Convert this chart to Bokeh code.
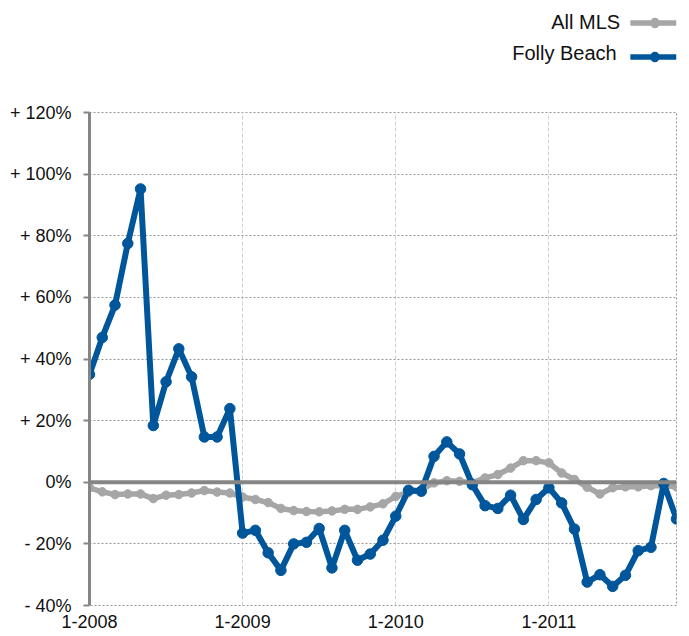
from bokeh.plotting import figure
from bokeh.layouts import column
from bokeh.models import Range1d, FixedTicker, Span, Label, BoxAnnotation, ColumnDataSource
from bokeh.embed import file_html
from bokeh.resources import INLINE

# ---- data (monthly, Jan 2008 .. Nov 2011) ----
month_index = list(range(47))
tick_positions = [0, 12, 24, 36]
tick_labels = ["1-2008", "1-2009", "1-2010", "1-2011"]
y_ticks = [-40, -20, 0, 20, 40, 60, 80, 100, 120]
y_tick_labels = ["- 40%", "- 20%", "0%", "+ 20%", "+ 40%", "+ 60%", "+ 80%", "+ 100%", "+ 120%"]

folly_beach = [35, 47, 57.5, 77.5, 95.2, 18.4, 32.6, 43.3, 34.2, 14.7, 14.7, 23.9,
               -16.5, -15.6, -22.9, -28.6, -20, -19.5, -15, -27.8, -15.6, -25.3, -23.3, -18.8,
               -11, -2.6, -2.9, 8.4, 13.1, 9.2, -0.8, -7.6, -8.5, -4.2, -12.1, -5.6,
               -1.8, -6.7, -15.2, -32.4, -30, -33.8, -30.2, -22.2, -21.1, -0.4, -11.9]
all_mls = [-1.8, -3.1, -4, -3.8, -3.8, -5.3, -4.2, -4, -3.5, -2.7, -3.2, -3.5,
           -4.8, -5.6, -6.6, -8.5, -9.2, -9.5, -9.6, -9.3, -8.8, -8.8, -8, -7,
           -4.6, -3.3, -2.4, -0.2, 0.5, 0.3, -0.2, 1.4, 2.5, 4.6, 7, 7,
           6.3, 3, 0.9, -1.6, -3.8, -1.8, -1.5, -1.5, -1.1, -1.1, -1.5]
series_names = ["All MLS", "Folly Beach"]

BLUE = "#00569A"
GRAY = "#A6A6A6"
AXIS_GRAY = "#858585"
FONT = "Liberation Sans"
W = 687
LEG_H = 70

src = ColumnDataSource(dict(x=month_index, folly=folly_beach, mls=all_mls))

# ---------------- legend strip (label left, swatch right) ----------------
leg = figure(width=W, height=LEG_H, output_backend="svg", toolbar_location=None,
             x_range=Range1d(0, W), y_range=Range1d(LEG_H, 0),
             min_border=0)
leg.axis.visible = False
leg.grid.visible = False
leg.outline_line_color = None
leg.background_fill_color = "white"
leg.border_fill_color = "white"

legend_colors = [GRAY, BLUE]
legend_text_y = [21, 52]
legend_line_y = [22.5, 56.5]
legend_text_right = [621, 617]
for name, col, ty, ly, tr in zip(series_names, legend_colors, legend_text_y, legend_line_y, legend_text_right):
    leg.add_layout(Label(x=tr, y=ty, text=name, text_font=FONT, text_font_size="20px",
                         text_align="right", text_baseline="middle", text_color="#111111"))
    leg.add_layout(BoxAnnotation(left=633, right=W, bottom=ly + 2.8, top=ly - 2.8,
                                 fill_color=col, fill_alpha=1, line_color=None))
    leg.add_layout(BoxAnnotation(left=656.5, right=667, bottom=ly + 5.2, top=ly - 5.2,
                                 fill_color=col, fill_alpha=1, line_color=None,
                                 border_radius=5))

# ---------------- main chart ----------------
p = figure(width=W, height=564, output_backend="svg", toolbar_location=None,
           x_range=Range1d(0, 46), y_range=Range1d(-40, 120),
           min_border_left=89, min_border_top=42, min_border_right=11, min_border_bottom=29)
p.background_fill_color = "white"
p.border_fill_color = "white"
p.outline_line_color = "#999999"
p.outline_line_dash = "2 2"
p.outline_line_width = 1

p.xgrid.ticker = FixedTicker(ticks=tick_positions)
p.xgrid.grid_line_color = "#d0d0d0"
p.xgrid.grid_line_dash = "4 2"
p.xgrid.grid_line_width = 1
p.ygrid.ticker = FixedTicker(ticks=y_ticks)
p.ygrid.grid_line_color = "#999999"
p.ygrid.grid_line_dash = "2 2"
p.ygrid.grid_line_width = 1

p.xaxis.ticker = FixedTicker(ticks=tick_positions)
p.xaxis.major_label_overrides = dict(zip(tick_positions, tick_labels))
p.xaxis.axis_line_color = None
p.xaxis.major_tick_line_color = None
p.xaxis.minor_tick_line_color = None
p.xaxis.major_tick_out = 0
p.xaxis.major_label_standoff = 9
p.xaxis.major_label_text_font = FONT
p.xaxis.major_label_text_font_size = "18px"
p.xaxis.major_label_text_color = "#111111"

p.yaxis.ticker = FixedTicker(ticks=y_ticks)
p.yaxis.major_label_overrides = dict(zip(y_ticks, y_tick_labels))
p.yaxis.axis_line_color = AXIS_GRAY
p.yaxis.axis_line_width = 3
p.yaxis.major_tick_line_color = AXIS_GRAY
p.yaxis.major_tick_line_width = 2
p.yaxis.major_tick_out = 6
p.yaxis.major_tick_in = 0
p.yaxis.minor_tick_line_color = None
p.yaxis.major_label_standoff = 12
p.yaxis.major_label_text_font = FONT
p.yaxis.major_label_text_font_size = "18px"
p.yaxis.major_label_text_color = "#111111"

p.add_layout(Span(location=0, dimension="width", line_color=AXIS_GRAY, line_width=4))

p.line("x", "mls", source=src, line_color=GRAY, line_width=5.5)
p.scatter("x", "mls", source=src, size=8.5, fill_color=GRAY, line_color=GRAY)
p.line("x", "folly", source=src, line_color=BLUE, line_width=6)
p.scatter("x", "folly", source=src, size=10.5, fill_color=BLUE, line_color=BLUE)

layout = column(leg, p, spacing=0)
open("out.html", "w").write(file_html(layout, INLINE))
